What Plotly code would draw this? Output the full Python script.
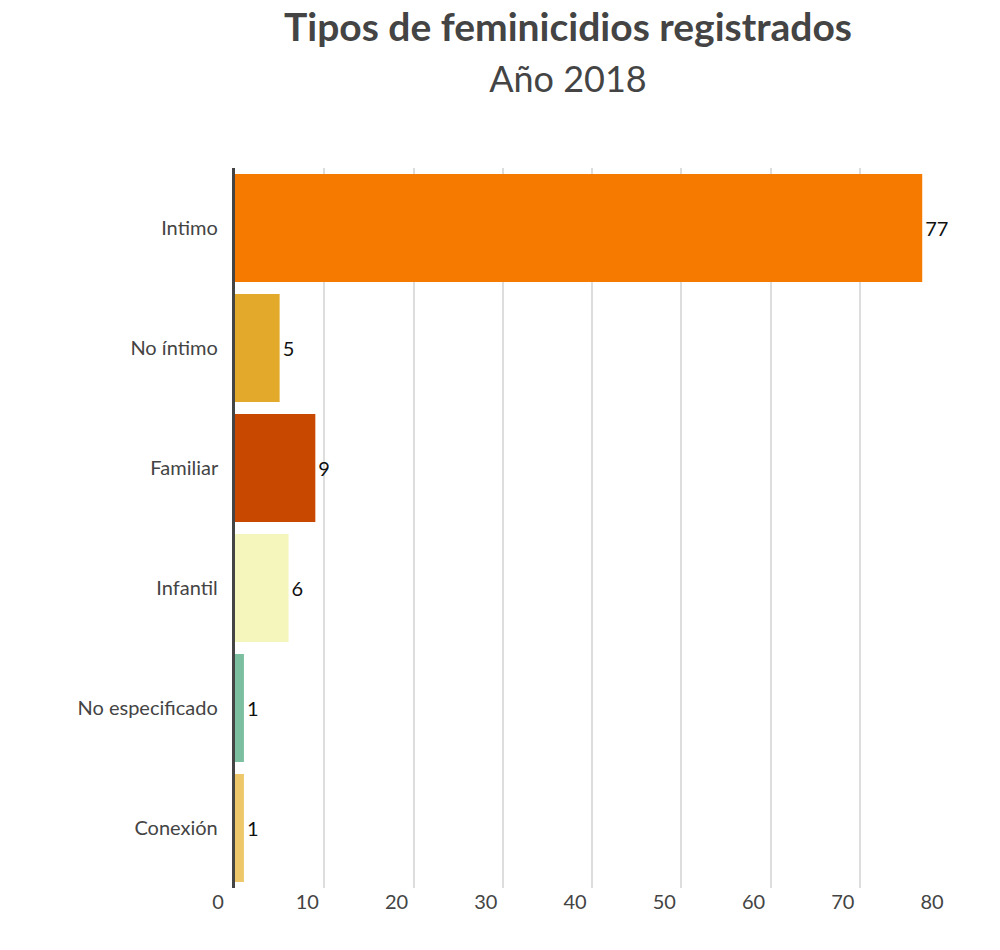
import plotly.graph_objects as go

categorias = ["Intimo", "No íntimo", "Familiar", "Infantil", "No especificado", "Conexión"]
valores = [77, 5, 9, 6, 1, 1]
colores = ["#F77A00", "#E3A92A", "#C94800", "#F5F6BC", "#7BBFA0", "#EEC76A"]

fig = go.Figure()
fig.add_trace(
    go.Bar(
        y=categorias,
        x=valores,
        orientation="h",
        marker=dict(color=colores, line=dict(width=0)),
        text=valores,
        textposition="outside",
        textfont=dict(size=20, color="#111111"),
        cliponaxis=False,
    )
)

fig.update_layout(
    width=1000,
    height=950,
    margin=dict(l=227, r=59, t=160, b=70, autoexpand=False),
    plot_bgcolor="white",
    paper_bgcolor="white",
    font=dict(family="Lato, Open Sans, sans-serif", color="#444444"),
    bargap=0.1,
    showlegend=False,
    title=dict(
        text="<b>Tipos de feminicidios registrados</b><br><span style='font-size:36px'>Año 2018</span>",
        x=0.56,
        xanchor="center",
        y=0.965,
        yanchor="top",
        font=dict(size=39, color="#444444"),
    ),
)
fig.update_xaxes(
    range=[0, 80],
    tickvals=[0, 10, 20, 30, 40, 50, 60, 70, 80],
    showgrid=True,
    gridcolor="#DDDDDD",
    gridwidth=2,
    zeroline=False,
    automargin=False,
    tickfont=dict(size=20, color="#444444"),
    ticklabelshift=-17,
)
fig.update_yaxes(
    autorange="reversed",
    showline=True,
    linecolor="#444444",
    linewidth=3,
    ticks="",
    ticksuffix="  ",
    automargin=False,
    tickfont=dict(size=20, color="#444444"),
)

fig.write_html("out.html")
